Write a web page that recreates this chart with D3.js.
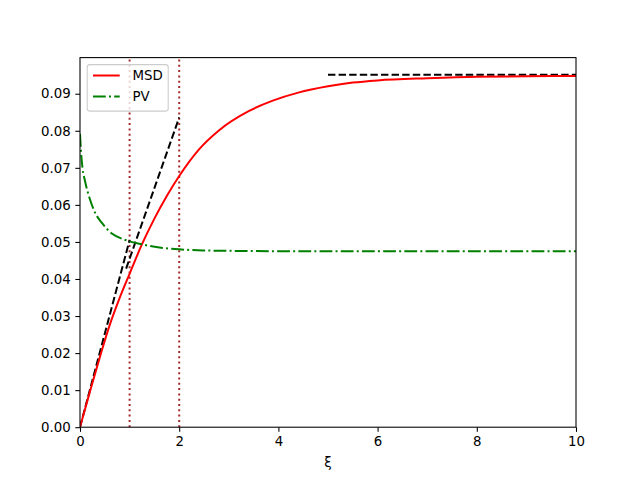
<!DOCTYPE html>
<html>
<head>
<meta charset="utf-8">
<script src="https://cdn.jsdelivr.net/npm/d3@7"></script>
<style>
  html, body { margin: 0; padding: 0; background: #fff; }
  svg { display: block; font-family: "DejaVu Sans", sans-serif; }
</style>
</head>
<body>
<svg id="chart" width="640" height="480"></svg>
<script>
// ---- data ----
const msdX = [0, 0.2, 0.4, 0.6, 0.8, 1.0, 1.25, 1.5, 1.75, 2.0, 2.4, 2.8, 3.4, 3.9, 4.4, 5.0, 5.5, 6.0, 7.0, 8.0, 9.0, 10.0];
const msdY = [0, 0.0096, 0.0189, 0.0276, 0.0349, 0.0414, 0.0494, 0.0563, 0.0624, 0.0678, 0.0750, 0.0801, 0.0853, 0.0882, 0.0903, 0.0920, 0.0930, 0.0936, 0.0942, 0.0946, 0.0947, 0.0948];
const pvX = [0, 0.02, 0.05, 0.1, 0.2, 0.3, 0.45, 0.65, 0.9, 1.3, 1.6, 2.0, 2.5, 3.0, 4.0, 6.0, 10.0];
const pvY = [0.0792, 0.0745, 0.0700, 0.0665, 0.0615, 0.0580, 0.0550, 0.0522, 0.0506, 0.0492, 0.0485, 0.0480, 0.0477, 0.0476, 0.0475, 0.0475, 0.0475];
// black dashed guide segments [[x0,y0],[x1,y1]]
const guideA = [[0, 0], [1.0, 0.0505]];
const guideB = [[0.93, 0.0428], [2.0, 0.0836]];
const plateau = [[5, 0.0951], [10, 0.0951]];
const vlinesX = [1, 2];
const xTicks = [0, 2, 4, 6, 8, 10];
const yTicks = [0, 0.01, 0.02, 0.03, 0.04, 0.05, 0.06, 0.07, 0.08, 0.09];
const xDomain = [0, 10];
const yDomain = [0, 0.09975];
const legendLabels = ["MSD", "PV"];

// ---- layout ----
const svg = d3.select("#chart");
const L = 80, R = 576, T = 57.6, B = 427.2;
const x = d3.scaleLinear().domain(xDomain).range([L, R]);
const y = d3.scaleLinear().domain(yDomain).range([B, T]);

svg.append("defs").append("clipPath").attr("id", "clip")
  .append("rect").attr("x", L).attr("y", T).attr("width", R - L).attr("height", B - T);

const plot = svg.append("g").attr("clip-path", "url(#clip)");
const line = d3.line().x(d => x(d[0])).y(d => y(d[1]));

// vertical dotted lines
vlinesX.forEach(v => {
  plot.append("path")
    .attr("d", line([[v, yDomain[0]], [v, yDomain[1]]]))
    .attr("stroke", "#a52a2a").attr("stroke-width", 2).attr("fill", "none")
    .attr("stroke-dasharray", "2,3.3");
});

// dashed guides
[guideA, guideB, plateau].forEach(seg => {
  plot.append("path")
    .attr("d", line(seg))
    .attr("stroke", "black").attr("stroke-width", 2).attr("fill", "none")
    .attr("stroke-dasharray", "7.4,3.2");
});

// MSD & PV
const msd = msdX.map((v, i) => [v, msdY[i]]);
const pv = pvX.map((v, i) => [v, pvY[i]]);
const curve = d3.line().x(d => x(d[0])).y(d => y(d[1])).curve(d3.curveMonotoneX);
plot.append("path").attr("d", curve(msd))
  .attr("stroke", "red").attr("stroke-width", 2).attr("fill", "none");
plot.append("path").attr("d", curve(pv))
  .attr("stroke", "green").attr("stroke-width", 2).attr("fill", "none")
  .attr("stroke-dasharray", "12.8,3.2,2,3.2");

// axes
const xAxis = d3.axisBottom(x).tickValues(xTicks).tickSize(4.67).tickPadding(4.67).tickFormat(d3.format("d"));
const yAxis = d3.axisLeft(y).tickValues(yTicks).tickSize(4.67).tickPadding(4.67).tickFormat(d3.format(".2f"));
const gx = svg.append("g").attr("transform", `translate(0,${B})`).call(xAxis);
const gy = svg.append("g").attr("transform", `translate(${L},0)`).call(yAxis);
[gx, gy].forEach(g => {
  g.select(".domain").remove();
  g.selectAll(".tick line").attr("stroke", "black").attr("stroke-width", 1.07);
  g.selectAll(".tick text").attr("font-size", "13.33px").attr("fill", "black")
    .attr("font-family", "DejaVu Sans, sans-serif");
});

// frame
svg.append("rect").attr("x", L).attr("y", T).attr("width", R - L).attr("height", B - T)
  .attr("fill", "none").attr("stroke", "black").attr("stroke-width", 1.07);

// x label
svg.append("text").attr("x", (L + R) / 2).attr("y", 467).attr("text-anchor", "middle")
  .attr("font-size", "13.33px").attr("fill", "black").text("ξ");

// legend
const lg = svg.append("g");
lg.append("rect").attr("x", 87.2).attr("y", 64.6).attr("width", 81).attr("height", 46.5)
  .attr("rx", 2.5).attr("fill", "white").attr("fill-opacity", 0.8)
  .attr("stroke", "#cccccc").attr("stroke-width", 1.07);
const legStyles = [
  { color: "red", dash: null },
  { color: "green", dash: "12.8,3.2,2,3.2" }
];
legendLabels.forEach((lab, i) => {
  const yy = 75.5 + i * 21;
  lg.append("line").attr("x1", 93).attr("x2", 119.7).attr("y1", yy).attr("y2", yy)
    .attr("stroke", legStyles[i].color).attr("stroke-width", 2)
    .attr("stroke-dasharray", legStyles[i].dash);
  lg.append("text").attr("x", 132.5).attr("y", yy + 4.8).attr("font-size", "13.33px")
    .attr("fill", "black").text(lab);
});
</script>
</body>
</html>
